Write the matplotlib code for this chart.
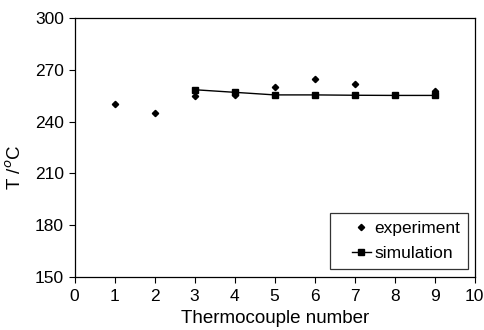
import matplotlib
matplotlib.use("Agg")
import matplotlib.pyplot as plt
from matplotlib.legend_handler import HandlerLine2D

plt.rcParams['font.family'] = ['Liberation Sans', 'DejaVu Sans']

exp_x = [1, 2, 3, 4, 5, 6, 7, 9]
exp_t = [250, 245, 255, 255.5, 260, 265, 262, 258]

sim_x = [3, 4, 5, 6, 7, 8, 9]
sim_t = [258.5, 257, 255.5, 255.5, 255.3, 255.2, 255.2]

x_ticks = list(range(0, 11))
y_ticks = [150, 180, 210, 240, 270, 300]

fig = plt.figure(figsize=(4.84, 3.30), dpi=100)
ax = fig.add_axes([0.154, 0.161, 0.827, 0.784])

l1, = ax.plot(exp_x, exp_t, linestyle='none', marker='D', markersize=3.2,
              color='black', label='experiment')
l2, = ax.plot(sim_x, sim_t, linestyle='-', linewidth=1, marker='s', markersize=4.5,
              color='black', label='simulation')

ax.set_xlim(0, 10)
ax.set_ylim(150, 300)
ax.set_xticks(x_ticks)
ax.set_yticks(y_ticks)
ax.tick_params(direction='out', length=4, width=0.8, labelsize=12.5,
               colors='black')
ax.tick_params(axis='x', pad=5)
for sp in ax.spines.values():
    sp.set_linewidth(0.9)

ax.set_xlabel("Thermocouple number", fontsize=13.5, labelpad=4)
ax.set_ylabel(r"T /$^o$C", fontsize=13.5)
ax.yaxis.set_label_coords(-0.125, 0.425)

hm = {l1: HandlerLine2D(xpad=0.8), l2: HandlerLine2D(xpad=0.8)}
leg = ax.legend(handler_map=hm, loc='lower right', bbox_to_anchor=(0.983, 0.03),
                fontsize=12.5, frameon=True, fancybox=False, edgecolor='black',
                handlelength=1.9, handletextpad=0.2, borderpad=0.45,
                labelspacing=0.6, borderaxespad=0)
leg.get_frame().set_linewidth(0.9)

fig.savefig("out.png", dpi=100)
